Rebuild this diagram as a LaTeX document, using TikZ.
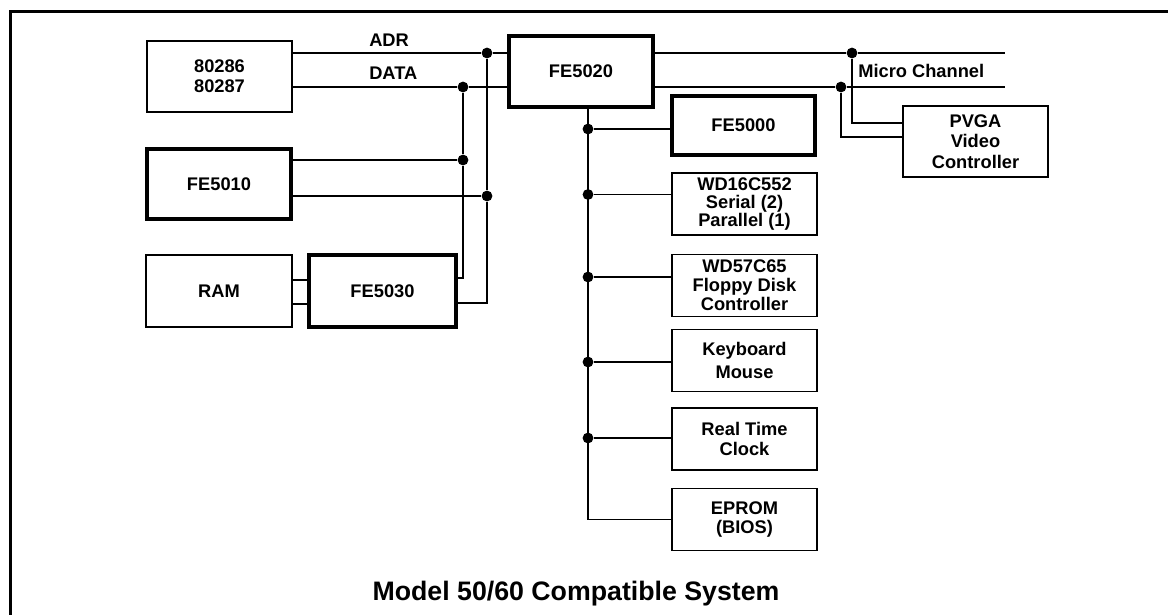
\documentclass[tikz,border=0pt]{standalone}
\usepackage{fontspec}
\setmainfont{Liberation Sans}
\usetikzlibrary{positioning,calc}

\begin{document}
\begin{tikzpicture}[x=0.025cm, y=-0.025cm,
    every node/.style={font=\fontsize{13}{14.5}\selectfont\bfseries},
    chip/.style={draw, line width=1pt, align=center, inner sep=0pt,
      minimum width=3.625cm, minimum height=1.55cm},
    fechip/.style={chip, line width=3.4pt},
    dot/.style={circle, fill, inner sep=0pt, minimum size=0.27cm},
    wire/.style={line width=1pt}]
  \useasboundingbox (0,0) rectangle (1168,615);
  % Frame
  \draw[line width=2.1pt] (10.5,615) -- (10.5,11.5) -- (1168,11.5);

  % Left column
  \node[chip, minimum height=1.775cm] (cpu) at (219.5,76.5) {80286\\80287};
  \node[fechip, minimum width=3.6cm, minimum height=1.75cm] (fe5010) at (219,184) {FE5010};
  \node[chip, minimum width=3.65cm, minimum height=1.8cm] (ram) at (219,291) {RAM};
  \node[fechip, minimum width=3.675cm, minimum height=1.8cm] (fe5030) at (382.5,291) {FE5030};

  % Bus controller and peripherals
  \node[fechip, minimum width=3.6cm, minimum height=1.775cm] (fe5020) at (581,71.5) {FE5020};
  \node[fechip, minimum width=3.575cm, minimum height=1.475cm] (fe5000) at (743.5,125.5) {FE5000};
  \node[chip, font=\fontsize{13}{12.5}\selectfont\bfseries] (wd16) at (744.5,204) {WD16C552\\Serial (2)\\Parallel (1)};
  \node[chip, font=\fontsize{13}{13.5}\selectfont\bfseries] (wd57) at (744.5,285.5) {WD57C65\\Floppy Disk\\Controller};
  \node[chip, font=\fontsize{13}{16.5}\selectfont\bfseries] (kbd) at (744.5,360.5) {Keyboard\\Mouse};
  \node[chip] (rtc) at (744.5,439) {Real Time\\Clock};
  \node[chip, font=\fontsize{13}{13}\selectfont\bfseries] (eprom) at (744.5,519.5) {EPROM\\(BIOS)};
  \node[chip, minimum height=1.775cm] (pvga) at (975.5,141.5) {PVGA\\Video\\Controller};

  % Labels
  \node[anchor=west, inner sep=0pt] (lbl_adr) at (369,40.5) {ADR};
  \node[anchor=west, inner sep=0pt] (lbl_data) at (369,73) {DATA};
  \node[anchor=west, inner sep=0pt] (lbl_mc) at (858,71) {Micro Channel};

  % Junctions
  \node[dot] (d_adr) at (487,53) {};
  \node[dot] (d_data) at (463,87) {};
  \node[dot] (d_10a) at (463,160) {};
  \node[dot] (d_10b) at (487,196) {};
  \node[dot] (d_mca) at (852,53) {};
  \node[dot] (d_mcd) at (841,87) {};
  \coordinate (mc_a) at (1005,53);
  \coordinate (mc_d) at (1005,87);

  % ADR and DATA
  \draw[wire] (cpu.east |- d_adr) -- (d_adr) -- (fe5020.west |- d_adr);
  \draw[wire] (cpu.east |- d_data) -- (d_data) -- (fe5020.west |- d_data);
  \draw[wire] (d_data) -- (d_10a) |- ($(fe5030.east)+(0,-13)$);
  \draw[wire] (d_adr) -- (d_10b) |- ($(fe5030.east)+(0,12)$);
  \draw[wire] (fe5010.east |- d_10a) -- (d_10a);
  \draw[wire] (fe5010.east |- d_10b) -- (d_10b);
  \draw[wire] ($(ram.east)+(0,-11)$) -- ($(fe5030.west)+(0,-11)$);
  \draw[wire] ($(ram.east)+(0,13)$) -- ($(fe5030.west)+(0,13)$);

  % Micro Channel
  \draw[wire] (fe5020.east |- mc_a) -- (d_mca) -- (mc_a);
  \draw[wire] (fe5020.east |- mc_d) -- (d_mcd) -- (mc_d);
  \draw[wire] (d_mca) |- ($(pvga.west)+(0,-18.5)$);
  \draw[wire] (d_mcd) |- ($(pvga.west)+(0,-4.5)$);

  % Local bus
  \coordinate (bus_top) at ($(fe5020.south)+(7,0)$);
  \draw[wire] (bus_top) |- (eprom.west);
  \foreach \n/\dy in {fe5000/3.5, wd16/-9.5, wd57/-8.5, kbd/1.5, rtc/-1} {
    \node[dot] (j_\n) at ($(bus_top |- \n.west)+(0,\dy)$) {};
    \draw[wire] (j_\n) -- (j_\n -| \n.west);
  }

  % Title
  \node[anchor=base, font=\fontsize{19}{22}\selectfont\bfseries] (title) at (576,600) {Model 50/60 Compatible System};
\end{tikzpicture}
\end{document}
